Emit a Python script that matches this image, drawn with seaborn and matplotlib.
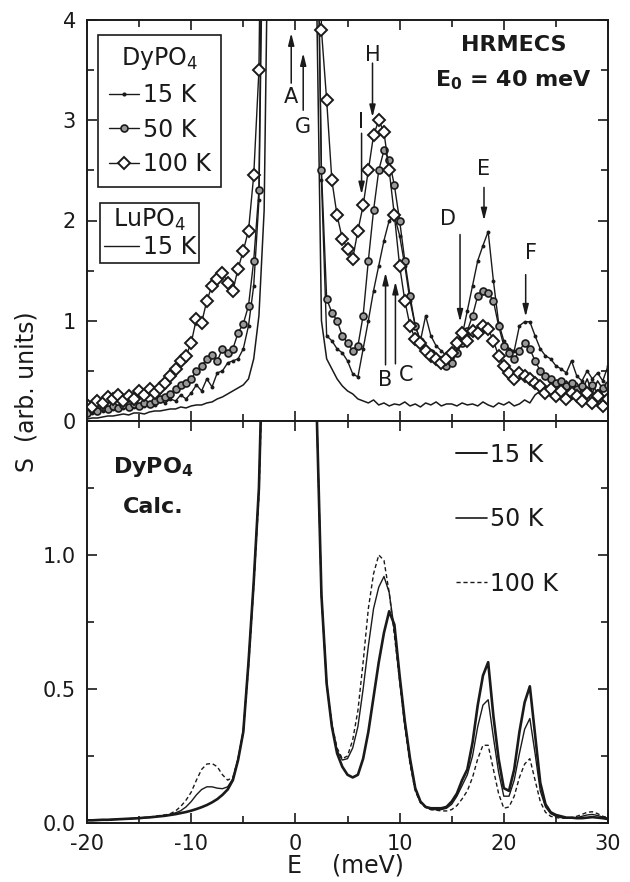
import numpy as np
import pandas as pd
import matplotlib
matplotlib.use("Agg")
import matplotlib.pyplot as plt
from matplotlib.lines import Line2D
from matplotlib.ticker import MultipleLocator
import seaborn as sns

# ---------------- data ----------------
# energy grid of the measured / calculated spectra (meV)
E_grid = np.arange(-20.0, 30.25, 0.5)

# measured S(E), HRMECS, E0 = 40 meV (rows of 5 meV)
dy_15K = [0.10, 0.08, 0.12, 0.10, 0.14, 0.12, 0.15, 0.13, 0.16, 0.14,
          0.17, 0.15, 0.18, 0.16, 0.20, 0.18, 0.22, 0.20, 0.26, 0.22,
          0.28, 0.36, 0.30, 0.42, 0.34, 0.48, 0.50, 0.58, 0.60, 0.62,
          0.72, 0.95, 1.35, 2.20, 6.0, 20, 20, 20, 20, 20,
          20, 20, 20, 20, 6.0, 2.4, 0.85, 0.80, 0.72, 0.68,
          0.60, 0.47, 0.44, 0.72, 1.00, 1.30, 1.55, 1.80, 2.00, 2.05,
          1.85, 1.55, 1.20, 0.95, 0.80, 1.05, 0.85, 0.75, 0.70, 0.65,
          0.62, 0.72, 0.85, 1.10, 1.35, 1.60, 1.75, 1.89, 1.40, 0.98,
          0.80, 0.72, 0.70, 0.95, 0.99, 0.99, 0.85, 0.72, 0.65, 0.62,
          0.55, 0.52, 0.48, 0.60, 0.45, 0.40, 0.50, 0.42, 0.48, 0.40,
          0.55]
dy_50K = [0.08, 0.12, 0.10, 0.14, 0.12, 0.15, 0.13, 0.16, 0.14, 0.17,
          0.15, 0.18, 0.17, 0.20, 0.22, 0.24, 0.27, 0.32, 0.36, 0.38,
          0.42, 0.50, 0.55, 0.62, 0.66, 0.60, 0.72, 0.68, 0.72, 0.88,
          0.97, 1.15, 1.60, 2.30, 7.0, 20, 20, 20, 20, 20,
          20, 20, 20, 20, 6.0, 2.5, 1.22, 1.08, 1.00, 0.85,
          0.78, 0.70, 0.75, 1.05, 1.60, 2.10, 2.50, 2.70, 2.60, 2.35,
          2.00, 1.60, 1.25, 0.95, 0.80, 0.70, 0.68, 0.62, 0.58, 0.55,
          0.58, 0.68, 0.78, 0.90, 1.05, 1.25, 1.30, 1.28, 1.20, 0.95,
          0.75, 0.68, 0.62, 0.70, 0.78, 0.72, 0.60, 0.50, 0.45, 0.42,
          0.38, 0.40, 0.35, 0.38, 0.32, 0.35, 0.30, 0.36, 0.28, 0.33,
          0.36]
dy_100K = [0.16, 0.14, 0.20, 0.18, 0.24, 0.22, 0.26, 0.20, 0.25, 0.22,
           0.30, 0.26, 0.32, 0.28, 0.33, 0.38, 0.45, 0.52, 0.60, 0.65,
           0.78, 1.02, 0.98, 1.20, 1.35, 1.42, 1.48, 1.38, 1.30, 1.52,
           1.70, 1.90, 2.45, 3.50, 8.0, 20, 20, 20, 20, 20,
           20, 20, 20, 20, 8.0, 3.9, 3.2, 2.40, 2.05, 1.82,
           1.72, 1.62, 1.90, 2.15, 2.50, 2.85, 3.00, 2.88, 2.50, 2.05,
           1.55, 1.20, 0.95, 0.82, 0.78, 0.70, 0.65, 0.62, 0.58, 0.62,
           0.68, 0.78, 0.88, 0.80, 0.90, 0.88, 0.95, 0.92, 0.80, 0.65,
           0.55, 0.48, 0.42, 0.48, 0.45, 0.42, 0.38, 0.35, 0.28, 0.32,
           0.25, 0.30, 0.22, 0.28, 0.25, 0.20, 0.28, 0.18, 0.25, 0.15,
           0.22]
lu_15K = [0.02, 0.03, 0.03, 0.04, 0.05, 0.05, 0.06, 0.07, 0.06, 0.08,
          0.08, 0.07, 0.09, 0.10, 0.10, 0.11, 0.12, 0.12, 0.14, 0.13,
          0.15, 0.16, 0.16, 0.18, 0.19, 0.22, 0.24, 0.27, 0.30, 0.33,
          0.36, 0.42, 0.62, 1.05, 2.10, 6.0, 20, 20, 20, 20,
          20, 20, 20, 20, 4.5, 1.00, 0.62, 0.52, 0.42, 0.35,
          0.30, 0.27, 0.22, 0.20, 0.18, 0.21, 0.16, 0.18, 0.15, 0.17,
          0.16, 0.19, 0.15, 0.17, 0.14, 0.18, 0.16, 0.19, 0.15, 0.17,
          0.17, 0.15, 0.18, 0.16, 0.17, 0.15, 0.19, 0.16, 0.14, 0.18,
          0.16, 0.19, 0.15, 0.17, 0.21, 0.18, 0.26, 0.30, 0.34, 0.30,
          0.36, 0.32, 0.40, 0.34, 0.38, 0.30, 0.42, 0.28, 0.40, 0.32,
          0.38]

# calculated S(E) for DyPO4
calc_15K = [0.010, 0.010, 0.011, 0.012, 0.012, 0.013, 0.014, 0.015, 0.016, 0.017,
            0.018, 0.020, 0.021, 0.023, 0.025, 0.027, 0.030, 0.033, 0.037, 0.041,
            0.046, 0.052, 0.059, 0.067, 0.077, 0.089, 0.105, 0.125, 0.160, 0.235,
            0.340, 0.600, 0.900, 1.250, 2.0, 3.5, 6, 6, 6, 6,
            6, 6, 6, 4, 1.6, 0.85, 0.52, 0.36, 0.26, 0.21,
            0.18, 0.17, 0.18, 0.24, 0.34, 0.47, 0.60, 0.71, 0.79, 0.74,
            0.55, 0.38, 0.24, 0.13, 0.08, 0.06, 0.055, 0.055, 0.055, 0.06,
            0.08, 0.11, 0.16, 0.20, 0.30, 0.44, 0.55, 0.60, 0.40, 0.24,
            0.13, 0.12, 0.20, 0.34, 0.45, 0.51, 0.33, 0.15, 0.07, 0.04,
            0.03, 0.025, 0.02, 0.02, 0.018, 0.018, 0.02, 0.022, 0.02, 0.018,
            0.015]
calc_50K = [0.010, 0.010, 0.011, 0.012, 0.012, 0.013, 0.014, 0.015, 0.016, 0.017,
            0.018, 0.020, 0.021, 0.023, 0.026, 0.029, 0.032, 0.038, 0.046, 0.060,
            0.080, 0.105, 0.125, 0.135, 0.135, 0.130, 0.128, 0.135, 0.165, 0.240,
            0.345, 0.600, 0.900, 1.250, 2.0, 3.5, 6, 6, 6, 6,
            6, 6, 6, 4, 1.6, 0.85, 0.52, 0.36, 0.27, 0.235,
            0.24, 0.28, 0.36, 0.50, 0.66, 0.80, 0.88, 0.92, 0.86, 0.72,
            0.54, 0.37, 0.23, 0.13, 0.08, 0.06, 0.05, 0.05, 0.05, 0.055,
            0.07, 0.10, 0.14, 0.18, 0.25, 0.36, 0.44, 0.46, 0.32, 0.19,
            0.10, 0.10, 0.16, 0.26, 0.35, 0.39, 0.26, 0.12, 0.06, 0.035,
            0.025, 0.02, 0.018, 0.018, 0.02, 0.025, 0.03, 0.032, 0.028, 0.022,
            0.018]
calc_100K = [0.010, 0.010, 0.011, 0.012, 0.012, 0.013, 0.014, 0.015, 0.016, 0.017,
             0.018, 0.020, 0.022, 0.025, 0.028, 0.030, 0.035, 0.045, 0.062, 0.085,
             0.115, 0.160, 0.200, 0.220, 0.222, 0.210, 0.180, 0.160, 0.170, 0.240,
             0.34, 0.58, 0.88, 1.22, 1.9, 3.5, 6, 6, 6, 6,
             6, 6, 6, 4, 1.6, 0.85, 0.52, 0.37, 0.28, 0.24,
             0.25, 0.31, 0.42, 0.60, 0.80, 0.93, 1.00, 0.98, 0.86, 0.70,
             0.53, 0.36, 0.22, 0.12, 0.075, 0.058, 0.05, 0.048, 0.045, 0.045,
             0.05, 0.065, 0.09, 0.12, 0.17, 0.24, 0.29, 0.29, 0.20, 0.11,
             0.055, 0.06, 0.10, 0.17, 0.22, 0.24, 0.16, 0.08, 0.04, 0.025,
             0.02, 0.018, 0.018, 0.02, 0.025, 0.032, 0.04, 0.042, 0.035, 0.025,
             0.02]

# peak labels with arrow tail/head heights and label positions
peak_labels = ["A", "G", "H", "I", "B", "C", "D", "E", "F"]
peak_x      = [-0.4, 0.75, 7.4, 6.35, 8.65, 9.6, 15.8, 18.1, 22.1]
peak_tail   = [3.37, 3.10, 3.57, 2.87, 0.56, 0.57, 1.86, 2.33, 1.46]
peak_head   = [3.87, 3.67, 3.03, 2.26, 1.48, 1.39, 0.99, 2.00, 1.04]
label_x     = [-0.4, 0.7, 7.4, 6.3, 8.65, 10.6, 14.6, 18.1, 22.6]
label_y     = [3.23, 2.93, 3.65, 2.98, 0.41, 0.46, 2.01, 2.51, 1.68]

# ---------------- style ----------------
sns.set_theme(style="ticks")
plt.rcParams["font.family"] = ["DejaVu Sans"]
plt.rcParams["mathtext.default"] = "regular"
plt.rcParams["axes.linewidth"] = 1.4
plt.rcParams["axes.unicode_minus"] = False
plt.rcParams["text.color"] = "k"
plt.rcParams["axes.labelcolor"] = "k"
plt.rcParams["xtick.color"] = "k"
plt.rcParams["ytick.color"] = "k"
plt.rcParams["legend.labelcolor"] = "k"

fig = plt.figure(figsize=(6.3, 8.82), dpi=100)
W, H = 630.0, 882.0
ax1 = fig.add_axes([87 / W, 1 - 421 / H, 521 / W, 401 / H])
ax2 = fig.add_axes([87 / W, 1 - 823 / H, 521 / W, 402 / H])

df_top = pd.DataFrame({"E": E_grid, "lu": lu_15K, "d15": dy_15K,
                       "d50": dy_50K, "d100": dy_100K})
df_bot = pd.DataFrame({"E": E_grid, "c15": calc_15K, "c50": calc_50K,
                       "c100": calc_100K})

# ----- top panel -----
sns.lineplot(data=df_top, x="E", y="lu", ax=ax1, color="k", lw=1.1,
             estimator=None, sort=False)
sns.lineplot(data=df_top, x="E", y="d15", ax=ax1, color="k", lw=1.0,
             marker="o", markersize=2.8, markeredgewidth=0,
             estimator=None, sort=False)
sns.lineplot(data=df_top, x="E", y="d50", ax=ax1, color="k", lw=1.0,
             marker="o", markersize=5.0, markerfacecolor="0.6",
             markeredgecolor="k", markeredgewidth=1.2,
             estimator=None, sort=False)
sns.lineplot(data=df_top, x="E", y="d100", ax=ax1, color="k", lw=1.0,
             marker="D", markersize=6.5, markerfacecolor="white",
             markeredgecolor="k", markeredgewidth=1.4,
             estimator=None, sort=False)

ax1.set_xlim(-20, 30)
ax1.set_ylim(0, 4)
ax1.set_xlabel("")
ax1.set_ylabel("")
ax1.yaxis.set_major_locator(MultipleLocator(1))
ax1.yaxis.set_minor_locator(MultipleLocator(0.5))
ax1.xaxis.set_major_locator(MultipleLocator(10))
ax1.xaxis.set_minor_locator(MultipleLocator(5))
ax1.tick_params(axis="both", which="both", direction="in", top=True,
                right=True, labelbottom=False, labelsize=15, colors="k")
ax1.tick_params(which="major", length=7, width=1.2, pad=8)
ax1.tick_params(which="minor", length=5, width=1.2)

for lab, px, yt, yh, lx, ly in zip(peak_labels, peak_x, peak_tail, peak_head,
                                   label_x, label_y):
    ax1.annotate("", xy=(px, yh), xytext=(px, yt),
                 arrowprops=dict(arrowstyle="-|>,head_length=0.6,head_width=0.15",
                                 color="k", lw=1.1, shrinkA=0, shrinkB=0))
    ax1.text(lx, ly, lab, ha="center", va="center", fontsize=15, color="k")

ax1.text(20.96, 3.75, "HRMECS", ha="center", va="center", fontsize=16,
         fontweight="bold", color="k")
ax1.text(20.96, 3.40, "E$_0$ = 40 meV", ha="center", va="center", fontsize=16,
         fontweight="bold", color="k")

h15 = Line2D([], [], color="k", lw=1.0, marker="o", ms=3, mew=0)
h50 = Line2D([], [], color="k", lw=1.0, marker="o", ms=5.0, mfc="0.6",
             mec="k", mew=1.2)
h100 = Line2D([], [], color="k", lw=1.0, marker="D", ms=6.5, mfc="white",
              mec="k", mew=1.4)
leg1 = ax1.legend([h15, h50, h100], ["15 K", "50 K", "100 K"],
                  title="DyPO$_4$", loc="upper left",
                  bbox_to_anchor=(0.021, 0.963), fontsize=17,
                  title_fontsize=17, frameon=True, fancybox=False,
                  edgecolor="k", framealpha=1, handlelength=1.3,
                  handletextpad=0.15, labelspacing=0.45, borderpad=0.45,
                  borderaxespad=0, numpoints=1)
leg1.get_frame().set_linewidth(1.2)
ax1.add_artist(leg1)
hlu = Line2D([], [], color="k", lw=1.0)
leg2 = ax1.legend([hlu], ["15 K"], title="LuPO$_4$", loc="upper left",
                  bbox_to_anchor=(0.025, 0.544), fontsize=17,
                  title_fontsize=17, frameon=True, fancybox=False,
                  edgecolor="k", framealpha=1, handlelength=1.5,
                  handletextpad=0.15, labelspacing=0.1, borderpad=0.15,
                  borderaxespad=0)
leg2.get_frame().set_linewidth(1.2)

# ----- bottom panel -----
sns.lineplot(data=df_bot, x="E", y="c15", ax=ax2, color="k", lw=1.9,
             estimator=None, sort=False)
sns.lineplot(data=df_bot, x="E", y="c50", ax=ax2, color="k", lw=1.0,
             estimator=None, sort=False)
sns.lineplot(data=df_bot, x="E", y="c100", ax=ax2, color="k", lw=1.0,
             linestyle=(0, (3, 2)), estimator=None, sort=False)

ax2.set_xlim(-20, 30)
ax2.set_ylim(0, 1.5)
ax2.set_xlabel("")
ax2.set_ylabel("")
ax2.set_yticks([0.0, 0.5, 1.0])
ax2.set_yticklabels(["0.0", "0.5", "1.0"])
ax2.yaxis.set_minor_locator(MultipleLocator(0.25))
ax2.set_xticks([-20, -10, 0, 10, 20, 30])
ax2.set_xticklabels(["-20", "-10", "0", "10", "20", "30"])
ax2.xaxis.set_minor_locator(MultipleLocator(5))
ax2.tick_params(axis="both", which="both", direction="in", top=True,
                right=True, labelsize=15, colors="k")
ax2.tick_params(which="major", length=7, width=1.2, pad=8)
ax2.tick_params(which="minor", length=5, width=1.2)

ax2.text(-13.65, 1.33, "DyPO$_4$", ha="center", va="center", fontsize=16,
         fontweight="bold", color="k")
ax2.text(-13.65, 1.18, "Calc.", ha="center", va="center", fontsize=16,
         fontweight="bold", color="k")

hc15 = Line2D([], [], color="k", lw=1.4)
hc50 = Line2D([], [], color="k", lw=1.2)
hc100 = Line2D([], [], color="k", lw=1.0, linestyle=(0, (3, 2)))
ax2.legend([hc15, hc50, hc100], ["15 K", "50 K", "100 K"], loc="upper left",
           bbox_to_anchor=(0.69, 0.97), fontsize=17, frameon=False,
           handlelength=1.3, handletextpad=0.15, labelspacing=1.72,
           borderaxespad=0)

for ax in (ax1, ax2):
    for s in ax.spines.values():
        s.set_color("k")
        s.set_linewidth(1.4)

fig.text(27 / W, 1 - 392 / H, "S  (arb. units)", rotation=90, ha="center",
         va="center", fontsize=17, color="k")
fig.text(345 / W, 1 - 866 / H, "E    (meV)", ha="center", va="center",
         fontsize=17, color="k")

fig.savefig("out.png", dpi=100)
